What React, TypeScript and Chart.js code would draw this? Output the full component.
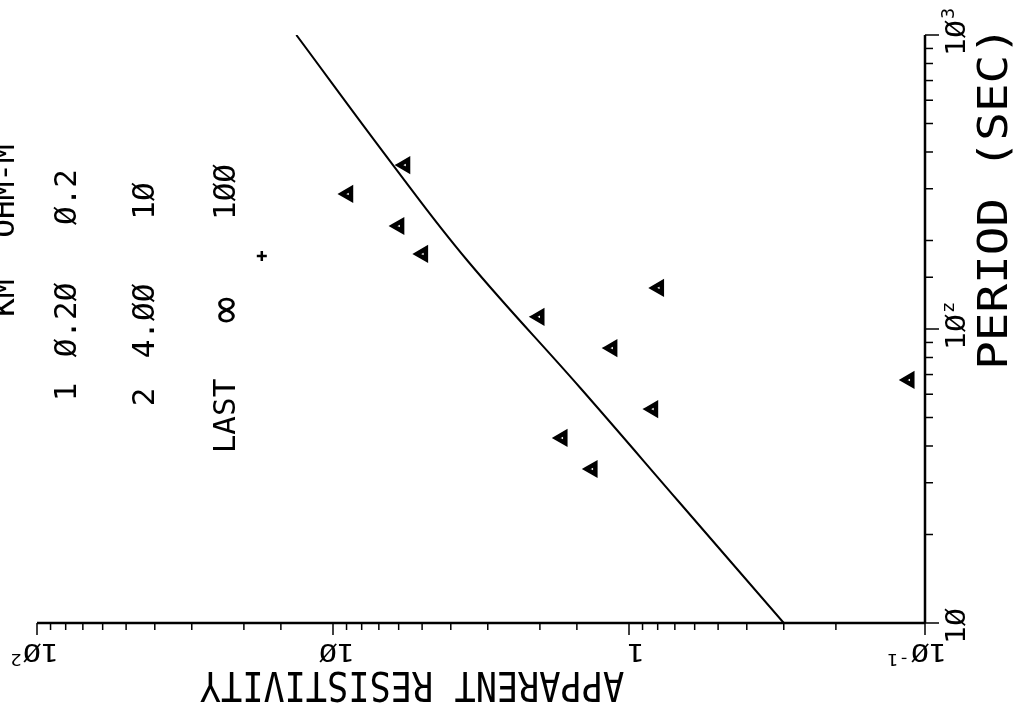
import React, { useEffect, useRef } from "react";
import { Chart, registerables } from "chart.js";

Chart.register(...registerables);

// Model response curve (period in s, apparent resistivity in ohm-m)
const CURVE_PERIOD = [10, 25.6, 63, 170, 361, 1000];
const CURVE_RHO = [0.3, 0.673, 1.46, 3.5, 6.27, 13.3];

// Observed apparent resistivities
const OBS_PERIOD = [361, 288, 224, 180, 110, 138, 86.1, 53.4, 42.6, 33.4, 67.1];
const OBS_RHO = [5.71, 8.9, 5.98, 4.97, 2.01, 0.793, 1.14, 0.83, 1.68, 1.33, 0.113];

// Single extra sounding value
const EXTRA_PERIOD = [177];
const EXTRA_RHO = [17.4];

// Axis tick labels: [base, superscript]
const RHO_TICKS = [100, 10, 1, 0.1];
const RHO_TICK_LABELS: [string, string][] = [["1Ø", "2"], ["1Ø", ""], ["1", ""], ["1Ø", "-1"]];
const PERIOD_TICKS = [10, 100, 1000];
const PERIOD_TICK_LABELS: [string, string][] = [["1Ø", ""], ["1Ø", "z"], ["1Ø", "3"]];

// Layer model table
const TABLE_HEADER = ["KM", "OHM-M"];
const LAYER_NAMES = ["1", "2", "LAST"];
const LAYER_DEPTH = ["Ø.2Ø", "4.ØØ", "∞"];
const LAYER_RHO = ["Ø.2", "1Ø", "1ØØ"];

const FONT = '"DejaVu Sans Mono", monospace';

function drawText(
  ctx: CanvasRenderingContext2D,
  text: string,
  cx: number,
  cy: number,
  angle: number,
  fontPx: number,
  sx = 1
) {
  const cap = fontPx * 0.73;
  ctx.save();
  ctx.translate(cx, cy);
  ctx.rotate(angle);
  ctx.scale(sx, 1);
  ctx.font = `${fontPx}px ${FONT}`;
  ctx.textAlign = "center";
  ctx.textBaseline = "alphabetic";
  ctx.fillStyle = "#000";
  ctx.fillText(text, 0, cap / 2);
  ctx.restore();
}

function drawPowerLabel(
  ctx: CanvasRenderingContext2D,
  base: string,
  sup: string,
  cx: number,
  cy: number,
  angle: number,
  fontPx: number,
  sx = 1
) {
  const cap = fontPx * 0.73;
  ctx.save();
  ctx.translate(cx, cy);
  ctx.rotate(angle);
  ctx.scale(sx, 1);
  ctx.fillStyle = "#000";
  ctx.font = `${fontPx}px ${FONT}`;
  ctx.textAlign = "center";
  ctx.textBaseline = "alphabetic";
  const w = ctx.measureText(base).width;
  ctx.fillText(base, 0, cap / 2);
  if (sup) {
    ctx.font = `${Math.round(fontPx * 0.62)}px ${FONT}`;
    ctx.textAlign = "left";
    ctx.fillText(sup, w / 2 + 1, cap / 2 - cap * 0.55);
  }
  ctx.restore();
}

const decorations = {
  id: "decorations",
  beforeDraw(chart: any) {
    const { ctx, width, height } = chart;
    ctx.save();
    ctx.fillStyle = "#fff";
    ctx.fillRect(0, 0, width, height);
    ctx.restore();
  },
  afterDraw(chart: any) {
    const { ctx } = chart;
    const xs = chart.scales.x;
    const ys = chart.scales.y;
    const axisY = ys.bottom;
    const axisX = xs.right;

    // axis lines and tick marks (pointing outward)
    ctx.save();
    ctx.strokeStyle = "#000";
    ctx.lineWidth = 2.5;
    ctx.beginPath();
    ctx.moveTo(xs.left, axisY);
    ctx.lineTo(axisX, axisY);
    ctx.moveTo(axisX, axisY);
    ctx.lineTo(axisX, ys.top);
    ctx.stroke();
    ctx.lineWidth = 1.5;
    xs.ticks.forEach((t: any) => {
      const px = xs.getPixelForValue(t.value);
      const major = RHO_TICKS.some((v) => Math.abs(Math.log10(v) - Math.log10(t.value)) < 1e-6);
      ctx.beginPath();
      ctx.moveTo(px, axisY);
      ctx.lineTo(px, axisY + (major ? 12 : 7));
      ctx.stroke();
    });
    ys.ticks.forEach((t: any) => {
      const py = ys.getPixelForValue(t.value);
      const major = PERIOD_TICKS.some((v) => Math.abs(Math.log10(v) - Math.log10(t.value)) < 1e-6);
      ctx.beginPath();
      ctx.moveTo(axisX, py);
      ctx.lineTo(axisX + (major ? 14 : 8), py);
      ctx.stroke();
    });
    ctx.restore();

    // resistivity tick labels (upside down)
    RHO_TICKS.forEach((v, i) => {
      const px = xs.getPixelForValue(v);
      const [b, s] = RHO_TICK_LABELS[i];
      drawPowerLabel(ctx, b, s, px + (b === "1" ? 7 : 4), axisY + 30, Math.PI, 24, 1.25);
    });

    // period tick labels
    PERIOD_TICKS.forEach((v, i) => {
      const py = ys.getPixelForValue(v);
      const [b, s] = PERIOD_TICK_LABELS[i];
      drawPowerLabel(ctx, b, s, axisX + 30, py + 3, -Math.PI / 2, 27, 1.1);
    });

    // axis titles
    drawText(ctx, "APPARENT RESISTIVITY", 412, 687, Math.PI, 41, 0.86);
    drawText(ctx, "PERIOD (SEC)", 992, 198, -Math.PI / 2, 41, 1.16);

    // layer table
    const tf = 31;
    drawText(ctx, TABLE_HEADER[0], 3, 298, -Math.PI / 2, tf);
    drawText(ctx, TABLE_HEADER[1], 3, 191, -Math.PI / 2, tf);
    const rowX = [65, 143, 224];
    const nameY = [392, 397, 416];
    const depthY = [320, 321, 310];
    const rhoY = [197, 201, 192];
    LAYER_NAMES.forEach((n, i) => {
      drawText(ctx, n, rowX[i], nameY[i], -Math.PI / 2, tf);
      const d = LAYER_DEPTH[i];
      drawText(ctx, d, rowX[i], depthY[i], -Math.PI / 2, d === "∞" ? 44 : tf);
      drawText(ctx, LAYER_RHO[i], rowX[i], rhoY[i], -Math.PI / 2, tf);
    });
  },
};

export default function App() {
  const ref = useRef<HTMLCanvasElement | null>(null);

  useEffect(() => {
    if (!ref.current) return;
    const chart = new Chart(ref.current, {
      type: "scatter",
      data: {
        datasets: [
          {
            type: "line",
            data: CURVE_PERIOD.map((t, i) => ({ x: CURVE_RHO[i], y: t })),
            borderColor: "#000",
            borderWidth: 2,
            pointRadius: 0,
            tension: 0.4,
            fill: false,
          },
          {
            data: OBS_PERIOD.map((t, i) => ({ x: OBS_RHO[i], y: t })),
            pointStyle: "triangle",
            rotation: -90,
            pointRadius: 6,
            backgroundColor: "#fff",
            borderColor: "#000",
            borderWidth: 4.5,
          },
          {
            data: EXTRA_PERIOD.map((t, i) => ({ x: EXTRA_RHO[i], y: t })),
            pointStyle: "cross",
            pointRadius: 5,
            borderColor: "#000",
            borderWidth: 2.5,
          },
        ],
      } as any,
      options: {
        animation: false,
        responsive: false,
        events: [],
        layout: { padding: { left: 37, top: 35, right: 0, bottom: 0 } },
        plugins: { legend: { display: false }, tooltip: { enabled: false } },
        scales: {
          x: {
            type: "logarithmic",
            min: 0.1,
            max: 100,
            reverse: true,
            position: "bottom",
            border: { display: false },
            grid: { display: false },
            ticks: { display: false },
            afterFit(s: any) {
              s.height = 92;
            },
          },
          y: {
            type: "logarithmic",
            min: 10,
            max: 1000,
            position: "right",
            border: { display: false },
            grid: { display: false },
            ticks: { display: false },
            afterFit(s: any) {
              s.width = 88;
            },
          },
        },
      } as any,
      plugins: [decorations],
    });
    return () => chart.destroy();
  }, []);

  return (
    <div style={{ position: "fixed", left: 0, top: 0, width: 1013, height: 715, background: "#fff" }}>
      <canvas ref={ref} width={1013} height={715} style={{ display: "block" }} />
    </div>
  );
}
